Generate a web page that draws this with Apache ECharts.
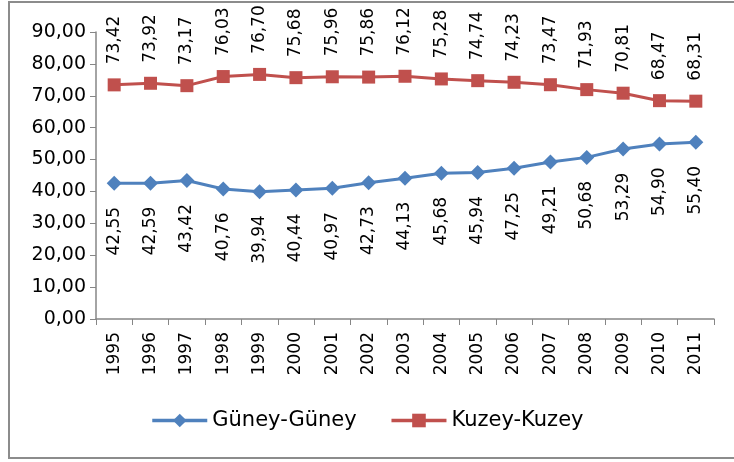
<!DOCTYPE html>
<html>
<head>
<meta charset="utf-8">
<script src="https://cdn.jsdelivr.net/npm/echarts@6/dist/echarts.min.js"></script>
<style>
  html, body { margin: 0; padding: 0; background: #fff; }
  #chart { width: 734px; height: 462px; }
</style>
</head>
<body>
<div id="chart"></div>
<script>
// yıllar ve seriler
const years = ['1995', '1996', '1997', '1998', '1999', '2000', '2001', '2002', '2003',
  '2004', '2005', '2006', '2007', '2008', '2009', '2010', '2011'];
const guneyGuney = [42.55, 42.59, 43.42, 40.76, 39.94, 40.44, 40.97, 42.73, 44.13,
  45.68, 45.94, 47.25, 49.21, 50.68, 53.29, 54.90, 55.40];
const kuzeyKuzey = [73.42, 73.92, 73.17, 76.03, 76.70, 75.68, 75.96, 75.86, 76.12,
  75.28, 74.74, 74.23, 73.47, 71.93, 70.81, 68.47, 68.31];

const fmt = v => v.toFixed(2).replace('.', ',');
const font = 'DejaVu Sans';

const chart = echarts.init(document.getElementById('chart'));
chart.setOption({
  animation: false,
  textStyle: { fontFamily: font },
  graphic: [{
    type: 'rect',
    shape: { x: 9, y: 2, width: 740, height: 456 },
    style: { fill: 'none', stroke: '#8c8c8c', lineWidth: 2 }
  }],
  grid: { left: 96, right: 20, top: 32, bottom: 143 },
  legend: {
    bottom: 26,
    left: 'center',
    itemWidth: 55,
    itemHeight: 17,
    itemGap: 33,
    lineStyle: { width: 3.5 },
    textStyle: { fontFamily: font, fontSize: 21, color: '#000' },
    data: ['Güney-Güney', 'Kuzey-Kuzey']
  },
  xAxis: {
    type: 'category',
    data: years,
    boundaryGap: true,
    axisLine: { lineStyle: { color: '#868686', width: 1.5 } },
    axisTick: { show: true, length: 6, lineStyle: { color: '#868686' } },
    axisLabel: { rotate: 90, fontSize: 17, color: '#000', margin: 13, fontFamily: font }
  },
  yAxis: {
    type: 'value',
    min: 0,
    max: 90,
    interval: 10,
    splitLine: { show: false },
    axisLine: { show: true, lineStyle: { color: '#868686', width: 1.5 } },
    axisTick: { show: true, length: 6, lineStyle: { color: '#868686' } },
    axisLabel: { formatter: fmt, fontSize: 19, color: '#000', margin: 10, fontFamily: font }
  },
  series: [
    {
      name: 'Güney-Güney',
      type: 'line',
      data: guneyGuney,
      symbol: 'diamond',
      symbolSize: 15,
      color: '#4F81BD',
      lineStyle: { width: 3 },
      label: {
        show: true,
        position: 'bottom',
        distance: 16,
        rotate: 90,
        align: 'right',
        verticalAlign: 'middle',
        fontSize: 17,
        fontFamily: font,
        color: '#000',
        formatter: p => fmt(p.value)
      }
    },
    {
      name: 'Kuzey-Kuzey',
      type: 'line',
      data: kuzeyKuzey,
      symbol: 'rect',
      symbolSize: 13,
      color: '#C0504D',
      lineStyle: { width: 3 },
      label: {
        show: true,
        position: 'top',
        distance: 14,
        rotate: 90,
        align: 'left',
        verticalAlign: 'middle',
        fontSize: 17,
        fontFamily: font,
        color: '#000',
        formatter: p => fmt(p.value)
      }
    }
  ]
});
</script>
</body>
</html>
